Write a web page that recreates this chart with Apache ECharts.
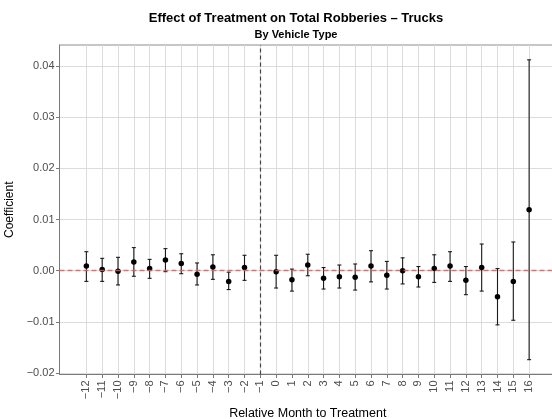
<!DOCTYPE html>
<html>
<head>
<meta charset="utf-8">
<script src="https://cdn.jsdelivr.net/npm/echarts@6/dist/echarts.min.js"></script>
<style>
  html, body { margin: 0; padding: 0; background: #fff; }
  #chart { width: 552px; height: 419px; }
</style>
</head>
<body>
<div id="chart"></div>
<script>
// Event-study estimates: month relative to treatment, point estimate and CI bounds
const months = [-12, -11, -10, -9, -8, -7, -6, -5, -4, -3, -2, 0, 1, 2, 3, 4, 5, 6, 7, 8, 9, 10, 11, 12, 13, 14, 15, 16];
const estimates = [0.0009, 0.0002, -0.0001, 0.0017, 0.0004, 0.0021, 0.0014, -0.0007, 0.0007, -0.0021, 0.0006,
  -0.0002, -0.0018, 0.0011, -0.0015, -0.0012, -0.0013, 0.0009, -0.0009, 0.0000, -0.0012, 0.0004, 0.0009,
  -0.0019, 0.0006, -0.0051, -0.0021, 0.0119];
const upperCI = [0.0037, 0.0024, 0.0026, 0.0045, 0.0022, 0.0043, 0.0033, 0.0015, 0.0031, -0.0003, 0.0030,
  0.0030, 0.0003, 0.0032, 0.0006, 0.0011, 0.0013, 0.0039, 0.0018, 0.0025, 0.0008, 0.0031, 0.0037,
  0.0008, 0.0052, 0.0004, 0.0056, 0.0412];
const lowerCI = [-0.0021, -0.0021, -0.0028, -0.0011, -0.0015, -0.0002, -0.0006, -0.0028, -0.0017, -0.0037, -0.0019,
  -0.0034, -0.0040, -0.0010, -0.0036, -0.0034, -0.0038, -0.0022, -0.0036, -0.0026, -0.0032, -0.0023, -0.0021,
  -0.0047, -0.0040, -0.0106, -0.0097, -0.0174];

// Axis ticks
const xTicks = [-12, -11, -10, -9, -8, -7, -6, -5, -4, -3, -2, -1, 0, 1, 2, 3, 4, 5, 6, 7, 8, 9, 10, 11, 12, 13, 14, 15, 16];
const yTicks = [-0.02, -0.01, 0.00, 0.01, 0.02, 0.03, 0.04];
const referenceMonth = -1;

const MINUS = '\u2212';
const fmtX = v => (v < 0 ? MINUS + Math.abs(v) : String(v));
const fmtY = v => {
  const r = Math.round(v * 100) / 100;
  return (r < 0 ? MINUS : '') + Math.abs(r).toFixed(2);
};

const pointData = months.map((m, i) => [m, estimates[i]]);
const barData = months.map((m, i) => [m, lowerCI[i], upperCI[i]]);

const FONT = '"Liberation Sans", Arial, Helvetica, sans-serif';

const chart = echarts.init(document.getElementById('chart'), null, { renderer: 'canvas' });

chart.setOption({
  backgroundColor: '#ffffff',
  animation: false,
  title: [
    {
      text: 'Effect of Treatment on Total Robberies \u2013 Trucks',
      left: 291, top: 7, textAlign: 'center',
      textStyle: { fontFamily: FONT, fontSize: 13, fontWeight: 'bold', color: '#000' }
    },
    {
      text: 'By Vehicle Type',
      left: 291, top: 24, textAlign: 'center',
      textStyle: { fontFamily: FONT, fontSize: 11, fontWeight: 'bold', color: '#000' }
    }
  ],
  grid: {
    left: 59.5, right: -4, top: 45, bottom: 44.5,
    containLabel: false,
    outerBoundsMode: 'none',
    show: true,
    borderColor: '#8c8c8c',
    borderWidth: 1,
    backgroundColor: 'transparent'
  },
  xAxis: {
    type: 'value',
    min: -13.7, max: 17.7,
    name: 'Relative Month to Treatment',
    nameLocation: 'middle',
    nameGap: 27,
    nameTextStyle: { fontFamily: FONT, fontSize: 12.5, color: '#000' },
    axisLine: { show: true, onZero: false, lineStyle: { color: '#7a7a7a', width: 1 } },
    axisTick: { show: true, length: 3.5, customValues: xTicks, lineStyle: { color: '#7a7a7a' } },
    axisLabel: {
      show: true, customValues: xTicks, rotate: 90, margin: 6,
      formatter: fmtX,
      fontFamily: FONT, fontSize: 11, color: '#4d4d4d'
    },
    splitLine: { show: true, lineStyle: { color: '#dcdcdc', width: 1 } }
  },
  yAxis: {
    type: 'value',
    min: -0.0203, max: 0.0441,
    name: 'Coefficient',
    nameLocation: 'middle',
    nameGap: 41,
    nameRotate: 90,
    nameTextStyle: { fontFamily: FONT, fontSize: 12, color: '#000' },
    axisLine: { show: true, onZero: false, lineStyle: { color: '#7a7a7a', width: 1 } },
    axisTick: { show: true, length: 3.5, customValues: yTicks, lineStyle: { color: '#7a7a7a' } },
    axisLabel: {
      show: true, customValues: yTicks, margin: 5,
      formatter: fmtY,
      fontFamily: FONT, fontSize: 11, color: '#4d4d4d'
    },
    splitLine: { show: true, lineStyle: { color: '#dcdcdc', width: 1 } }
  },
  series: [
    {
      // confidence interval whiskers with caps
      type: 'custom',
      data: barData,
      z: 3,
      renderItem: function (params, api) {
        const x = api.value(0);
        const lo = api.coord([x, api.value(1)]);
        const hi = api.coord([x, api.value(2)]);
        const cap = 2;
        const style = { stroke: '#1a1a1a', lineWidth: 1.1 };
        return {
          type: 'group',
          children: [
            { type: 'line', shape: { x1: lo[0], y1: lo[1], x2: hi[0], y2: hi[1] }, style },
            { type: 'line', shape: { x1: hi[0] - cap, y1: hi[1], x2: hi[0] + cap, y2: hi[1] }, style },
            { type: 'line', shape: { x1: lo[0] - cap, y1: lo[1], x2: lo[0] + cap, y2: lo[1] }, style }
          ]
        };
      }
    },
    {
      type: 'scatter',
      data: pointData,
      symbol: 'circle',
      symbolSize: 5.5,
      z: 4,
      itemStyle: { color: '#000', opacity: 1 },
      markLine: {
        silent: true,
        symbol: 'none',
        label: { show: false },
        data: [
          { yAxis: 0, lineStyle: { color: '#e05a5a', type: [5, 3], width: 1.3, opacity: 0.85 } },
          { xAxis: referenceMonth, lineStyle: { color: '#444', type: [4, 3], width: 1.2 } }
        ]
      }
    }
  ]
});
</script>
</body>
</html>
